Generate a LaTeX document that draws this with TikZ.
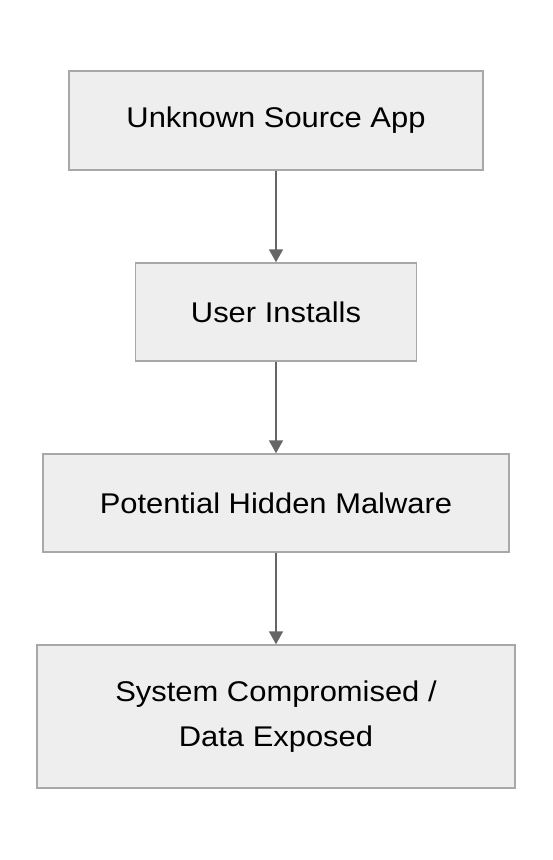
\documentclass[tikz,border=0pt]{standalone}
\usepackage{fontspec}
\setmainfont{Liberation Sans}[FakeStretch=1.085]
\usetikzlibrary{arrows.meta}
\definecolor{boxfill}{HTML}{EEEEEE}
\definecolor{boxline}{HTML}{A8A8A8}
\definecolor{arrowc}{HTML}{666666}
\tikzset{
  stepbox/.style={draw=boxline, fill=boxfill, line width=1.5pt, align=center, inner sep=0pt,
    font=\fontsize{28.5}{45}\selectfont},
  flow/.style={draw=arrowc, line width=1.8pt, -{Triangle[length=13pt,width=14pt]}}
}
\begin{document}
\begin{tikzpicture}[x=1pt,y=-1pt]
\useasboundingbox (0,0) rectangle (552,860);
\node[stepbox, minimum width=414pt, minimum height=99pt] (a) at (276,120.5) {Unknown Source App};
\node[stepbox, minimum width=281pt, minimum height=98pt] (b) at (276,312) {User Installs};
\node[stepbox, minimum width=466pt, minimum height=98pt] (c) at (276,503) {Potential Hidden Malware};
\node[stepbox, minimum width=478pt, minimum height=143pt] (d) at (276,716.5) {System Compromised /\\Data Exposed};
\draw[flow] (a) -- (b);
\draw[flow] (b) -- (c);
\draw[flow] (c) -- (d);
\end{tikzpicture}
\end{document}
